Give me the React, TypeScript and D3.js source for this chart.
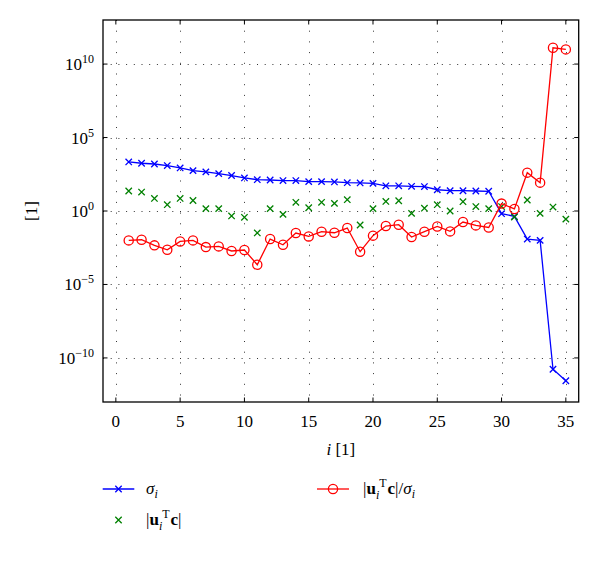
import React from "react";
import * as d3 from "d3";

const idx: number[] = d3.range(1, 36);
const sigma: number[] = [2.19e3, 1.78e3, 1.58e3, 1.23e3, 8.5e2, 5.6e2, 4.6e2, 3.5e2, 2.6e2, 1.78e2, 1.35e2, 1.29e2, 1.17e2, 1.17e2, 1.0e2, 1.0e2, 95, 85, 81, 76, 52, 52, 48, 46, 28, 24, 24, 23, 22, 0.66, 0.43, 0.0123, 0.01, 1.7e-11, 2.8e-12];
const uc: number[] = [22.9, 19.5, 7.2, 2.7, 7.2, 5.2, 1.45, 1.45, 0.46, 0.37, 0.032, 1.45, 0.59, 3.9, 1.66, 3.9, 3.3, 5.9, 0.112, 1.45, 4.5, 5.0, 0.69, 1.55, 2.7, 1.0, 4.3, 2.0, 1.45, 2.0, 0.39, 5.6, 0.69, 1.86, 0.28];
const ratio: number[] = [0.01, 0.011, 0.0046, 0.0023, 0.0085, 0.01, 0.0035, 0.0039, 0.0019, 0.0022, 0.00022, 0.0123, 0.005, 0.0316, 0.0186, 0.039, 0.033, 0.069, 0.0017, 0.021, 0.095, 0.117, 0.017, 0.039, 0.089, 0.041, 0.178, 0.105, 0.076, 3.2, 1.38, 407, 85, 1.29e11, 1.0e11];
const xTicks: number[] = [0, 5, 10, 15, 20, 25, 30, 35];
const yTickExps: number[] = [-10, -5, 0, 5, 10];

const FONT = "Liberation Serif, DejaVu Serif, serif";
const L = 103, R = 578.7, T = 20, B = 402;

function XMark({ x, y, s, color }: { x: number; y: number; s: number; color: string }) {
  return (
    <path d={`M${x - s},${y - s}L${x + s},${y + s}M${x - s},${y + s}L${x + s},${y - s}`} stroke={color} strokeWidth={1.3} fill="none" />
  );
}

export default function App() {
  const x = d3.scaleLinear().domain([-1, 36]).range([L, R]);
  const y = d3.scaleLog().domain([1e-13, 1e13]).range([B, T]);
  const line = d3.line<number>().x((_, i) => x(idx[i])).y((d) => y(d));

  return (
    <svg width={600} height={563} style={{ position: "absolute", left: 0, top: 0, fontFamily: FONT }}>
      <rect x={0} y={0} width={600} height={563} fill="#fff" />
      {/* grid */}
      {xTicks.map((t) => (
        <line key={"gx" + t} x1={Math.round(x(t)) + 0.5} x2={Math.round(x(t)) + 0.5} y1={T} y2={B} stroke="#333" strokeWidth={1} strokeDasharray="1,9.7" />
      ))}
      {yTickExps.map((e) => (
        <line key={"gy" + e} x1={L} x2={R} y1={Math.round(y(Math.pow(10, e))) + 0.5} y2={Math.round(y(Math.pow(10, e))) + 0.5} stroke="#333" strokeWidth={1} strokeDasharray="1,6.7" />
      ))}
      {/* ticks */}
      {xTicks.map((t) => (
        <g key={"tx" + t}>
          <line x1={x(t)} x2={x(t)} y1={B} y2={B - 4.5} stroke="#000" strokeWidth={1} />
          <line x1={x(t)} x2={x(t)} y1={T} y2={T + 4.5} stroke="#000" strokeWidth={1} />
          <text x={x(t)} y={427} textAnchor="middle" fontSize={17}>{t}</text>
        </g>
      ))}
      {yTickExps.map((e) => {
        const yy = y(Math.pow(10, e));
        return (
          <g key={"ty" + e}>
            <line x1={L} x2={L + 4.5} y1={yy} y2={yy} stroke="#000" strokeWidth={1} />
            <line x1={R} x2={R - 4.5} y1={yy} y2={yy} stroke="#000" strokeWidth={1} />
            <text x={94} y={yy + 6} textAnchor="end" fontSize={17}>
              10<tspan fontSize={12} dy={-7}>{e < 0 ? "\u2212" + Math.abs(e) : e}</tspan>
            </text>
          </g>
        );
      })}
      {/* frame */}
      <rect x={L} y={T} width={R - L} height={B - T} fill="none" stroke="#000" strokeWidth={1.3} />
      {/* series */}
      <path d={line(sigma) || ""} fill="none" stroke="#0000ff" strokeWidth={1.3} />
      {sigma.map((v, i) => (
        <XMark key={"s" + i} x={x(idx[i])} y={y(v)} s={3.2} color="#0000ff" />
      ))}
      {uc.map((v, i) => (
        <XMark key={"u" + i} x={x(idx[i])} y={y(v)} s={3.2} color="#008000" />
      ))}
      <path d={line(ratio) || ""} fill="none" stroke="#ff0000" strokeWidth={1.3} />
      {ratio.map((v, i) => (
        <circle key={"r" + i} cx={x(idx[i])} cy={y(v)} r={4.6} fill="none" stroke="#ff0000" strokeWidth={1.3} />
      ))}
      {/* axis labels */}
      <text x={(L + R) / 2} y={455} textAnchor="middle" fontSize={17}>
        <tspan fontStyle="italic">i</tspan> [1]
      </text>
      <text transform={`translate(37,211) rotate(-90)`} textAnchor="middle" fontSize={17}>[1]</text>
      {/* legend */}
      <line x1={102.7} x2={134.3} y1={489} y2={489} stroke="#0000ff" strokeWidth={1.3} />
      <XMark x={118.5} y={489} s={3.2} color="#0000ff" />
      <text x={146} y={494} fontSize={17}>
        <tspan fontStyle="italic">σ</tspan><tspan fontStyle="italic" fontSize={12} dy={4}>i</tspan>
      </text>
      <XMark x={118.5} y={520} s={3.2} color="#008000" />
      <text x={146} y={525} fontSize={17}>
        |<tspan fontWeight="bold">u</tspan><tspan fontStyle="italic" fontSize={12} dy={5}>i</tspan><tspan fontSize={12} dy={-12}>T</tspan><tspan fontWeight="bold" dx={1} dy={7}>c</tspan>|
      </text>
      <line x1={317} x2={349} y1={489} y2={489} stroke="#ff0000" strokeWidth={1.3} />
      <circle cx={333} cy={489} r={4.6} fill="none" stroke="#ff0000" strokeWidth={1.3} />
      <text x={363} y={494} fontSize={17}>
        |<tspan fontWeight="bold">u</tspan><tspan fontStyle="italic" fontSize={12} dy={5}>i</tspan><tspan fontSize={12} dy={-12}>T</tspan><tspan fontWeight="bold" dx={1} dy={7}>c</tspan>|/<tspan fontStyle="italic">σ</tspan><tspan fontStyle="italic" fontSize={12} dy={4}>i</tspan>
      </text>
    </svg>
  );
}
